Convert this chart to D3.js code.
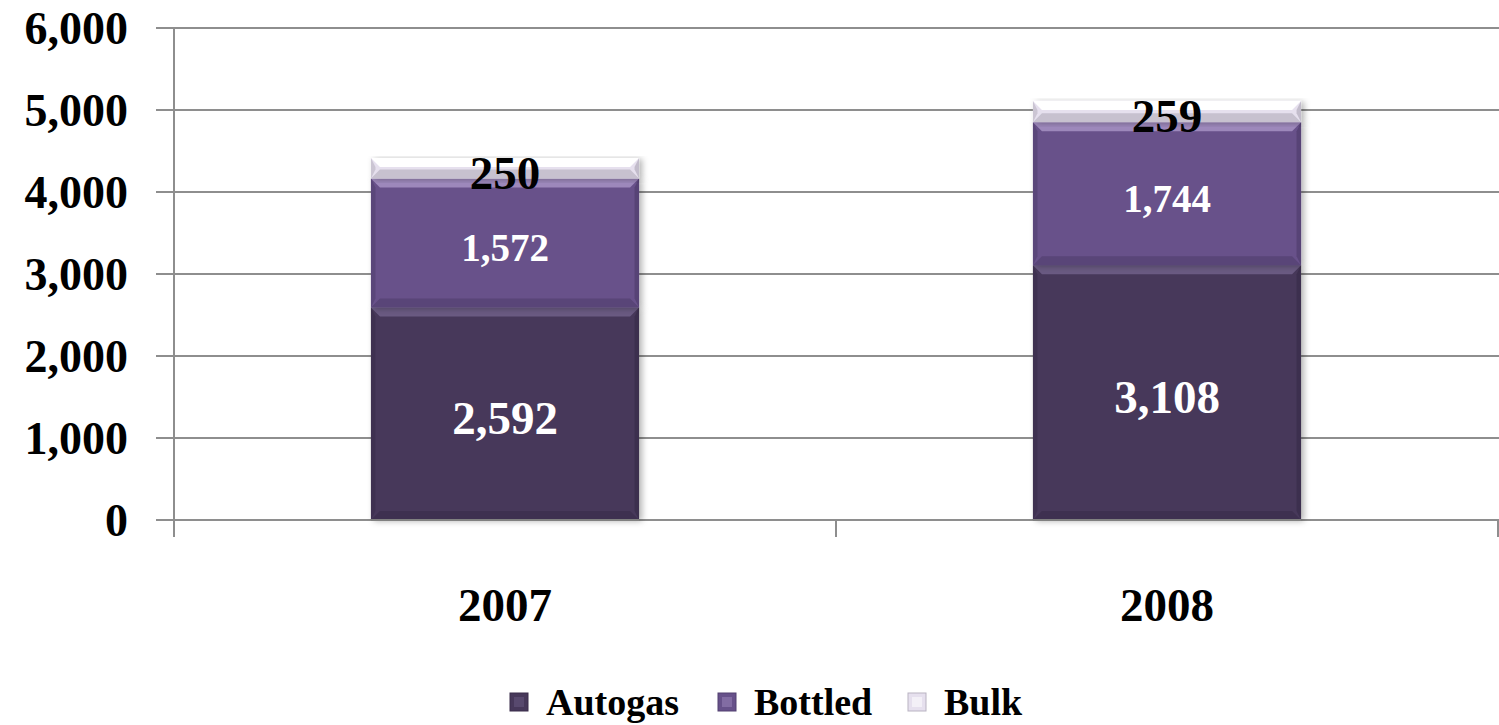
<!DOCTYPE html>
<html>
<head>
<meta charset="utf-8">
<script src="https://cdn.jsdelivr.net/npm/d3@7"></script>
<style>
  body { margin: 0; background: #fff; }
  svg text { font-family: "Palatino Linotype", "Book Antiqua", Palatino, "Liberation Serif", serif; font-weight: bold; }
</style>
</head>
<body>
<div class="lpgChart"></div>
<script>
var width = 1499,
height = 725,
yTop = 28,
yBottom = 520,
xLeft = 174,
xRight = 1498;

// data
var years = ["2007", "2008"];
var series = ["Autogas", "Bottled", "Bulk"];
var autogas = [2592, 3108];
var bottled = [1572, 1744];
var bulk = [250, 259];
var yTicks = [0, 1000, 2000, 3000, 4000, 5000, 6000];

var colors = {
	Autogas: "#47385a",
	Bottled: "#67518a",
	Bulk: "#e6e0ee"
};
var lightEdge = { Autogas: "#6a5a82", Bottled: "#9d88bb", Bulk: "#ffffff" };
var darkEdge = { Autogas: "#3a2d4b", Bottled: "#524070", Bulk: "#b9b3c2" };
var labelSize = { Autogas: 47, Bottled: 39, Bulk: 47 };
var labelColor = { Autogas: "#ffffff", Bottled: "#ffffff", Bulk: "#000000" };

var rows = years.map(function(y, i){
	return { year: y, Autogas: autogas[i], Bottled: bottled[i], Bulk: bulk[i] };
});
var stacked = d3.stack().keys(series)(rows);

var svg = d3.select("div.lpgChart")
			.append("svg")
			.attr("width", width)
			.attr("height", height);

var defs = svg.append("defs");
var shadow = defs.append("filter")
	.attr("id", "shadow")
	.attr("x", "-10%").attr("y", "-10%")
	.attr("width", "130%").attr("height", "130%");
shadow.append("feDropShadow")
	.attr("dx", 3).attr("dy", 1)
	.attr("stdDeviation", 3)
	.attr("flood-color", "#000")
	.attr("flood-opacity", 0.3);

var x = d3.scaleBand()
		.domain(years)
		.range([xLeft, xRight])
		.paddingInner(0.595)
		.paddingOuter(0.2975);

var y = d3.scaleLinear()
		.domain([0, 6000])
		.range([yBottom, yTop]);

/*
========== grid and axes ==========
*/
svg.append("g")
	.attr("class", "grid")
	.selectAll("line")
	.data(yTicks)
	.enter()
	.append("line")
	.attr("x1", 156)
	.attr("x2", width)
	.attr("y1", function(d){ return y(d); })
	.attr("y2", function(d){ return y(d); })
	.attr("stroke", "#8e8e8e")
	.attr("stroke-width", 2);

svg.append("line")
	.attr("x1", xLeft).attr("x2", xLeft)
	.attr("y1", y(6000)).attr("y2", yBottom + 17)
	.attr("stroke", "#8e8e8e")
	.attr("stroke-width", 2);

var bandW = (xRight - xLeft) / years.length;
svg.append("g")
	.selectAll("line")
	.data(d3.range(years.length + 1))
	.enter()
	.append("line")
	.attr("x1", function(i){ return xLeft + i*bandW; })
	.attr("x2", function(i){ return xLeft + i*bandW; })
	.attr("y1", yBottom)
	.attr("y2", yBottom + 17)
	.attr("stroke", "#8e8e8e")
	.attr("stroke-width", 2);

var yAxis = svg.append("g")
	.attr("transform", "translate(" + 128 + ",0)")
	.call(d3.axisLeft(y).tickValues(yTicks).tickFormat(d3.format(",")).tickSize(0));
yAxis.select(".domain").remove();
yAxis.selectAll(".tick text")
	.attr("x", 0)
	.attr("dy", "0.33em")
	.attr("fill", "#000")
	.style("font-size", "46px");

var xAxis = svg.append("g")
	.attr("transform", "translate(0," + 605 + ")")
	.call(d3.axisBottom(x).tickSize(0));
xAxis.select(".domain").remove();
xAxis.selectAll(".tick text")
	.attr("y", 0)
	.attr("dy", "0.33em")
	.attr("fill", "#000")
	.style("font-size", "47px");

/*
========== stacked bevel bars ==========
*/
var bev = 9;
var layers = svg.append("g").attr("class", "bars");

stacked.forEach(function(layer){
	var key = layer.key;
	var g = layers.append("g").attr("class", "layer-" + key);
	layer.forEach(function(d){
		var x0 = x(d.data.year), x1 = x0 + x.bandwidth();
		var yt = y(d[1]), yb = y(d[0]);
		var b = Math.min(bev, (yb - yt) / 2);
		var seg = g.append("g");
		seg.append("rect")
			.attr("x", x0).attr("y", yt)
			.attr("width", x1 - x0).attr("height", yb - yt)
			.attr("fill", colors[key])
			.attr("filter", "url(#shadow)");
		// top bevel
		seg.append("polygon")
			.attr("points", [[x0, yt], [x1, yt], [x1 - b, yt + b], [x0 + b, yt + b]].join(" "))
			.attr("fill", lightEdge[key]);
		// bottom bevel
		seg.append("polygon")
			.attr("points", [[x0, yb], [x1, yb], [x1 - b, yb - b], [x0 + b, yb - b]].join(" "))
			.attr("fill", darkEdge[key]).attr("opacity", 0.7);
		// side bevels
		seg.append("polygon")
			.attr("points", [[x0, yt], [x0 + b*0.5, yt + b], [x0 + b*0.5, yb - b], [x0, yb]].join(" "))
			.attr("fill", darkEdge[key]).attr("opacity", 0.6);
		seg.append("polygon")
			.attr("points", [[x1, yt], [x1 - b*0.5, yt + b], [x1 - b*0.5, yb - b], [x1, yb]].join(" "))
			.attr("fill", darkEdge[key]).attr("opacity", 0.8);
	});
});

// bottom edge of bars sits on the axis line
svg.append("g")
	.selectAll("line")
	.data(years)
	.enter()
	.append("line")
	.attr("x1", function(d){ return x(d); })
	.attr("x2", function(d){ return x(d) + x.bandwidth(); })
	.attr("y1", yBottom).attr("y2", yBottom)
	.attr("stroke", "#808080")
	.attr("stroke-width", 2);

/*
========== data labels ==========
*/
var labels = svg.append("g").attr("class", "labels");
stacked.forEach(function(layer){
	var key = layer.key;
	labels.selectAll("text.lab-" + key)
		.data(layer)
		.enter()
		.append("text")
		.attr("class", "lab-" + key)
		.attr("x", function(d){ return x(d.data.year) + x.bandwidth()/2; })
		.attr("y", function(d){ return (y(d[0]) + y(d[1]))/2 + 5; })
		.attr("dy", "0.33em")
		.attr("text-anchor", "middle")
		.attr("fill", labelColor[key])
		.style("font-size", labelSize[key] + "px")
		.text(function(d){ return d3.format(",")(d.data[key]); });
});

/*
========== legend ==========
*/
var legendX = [510, 718, 908];
var legend = svg.append("g").attr("class", "legend");
series.forEach(function(s, i){
	var lg = legend.append("g").attr("transform", "translate(" + legendX[i] + "," + 693 + ")");
	lg.append("rect")
		.attr("width", 18).attr("height", 18)
		.attr("fill", colors[s])
		.attr("stroke", darkEdge[s]).attr("stroke-width", 1);
	lg.append("rect")
		.attr("x", 4).attr("y", 4)
		.attr("width", 10).attr("height", 10)
		.attr("fill", lightEdge[s]).attr("opacity", 0.5);
	lg.append("text")
		.attr("x", 36).attr("y", 9)
		.attr("dy", "0.35em")
		.attr("fill", "#000")
		.style("font-size", "38px")
		.text(s);
});
</script>
</body>
</html>
